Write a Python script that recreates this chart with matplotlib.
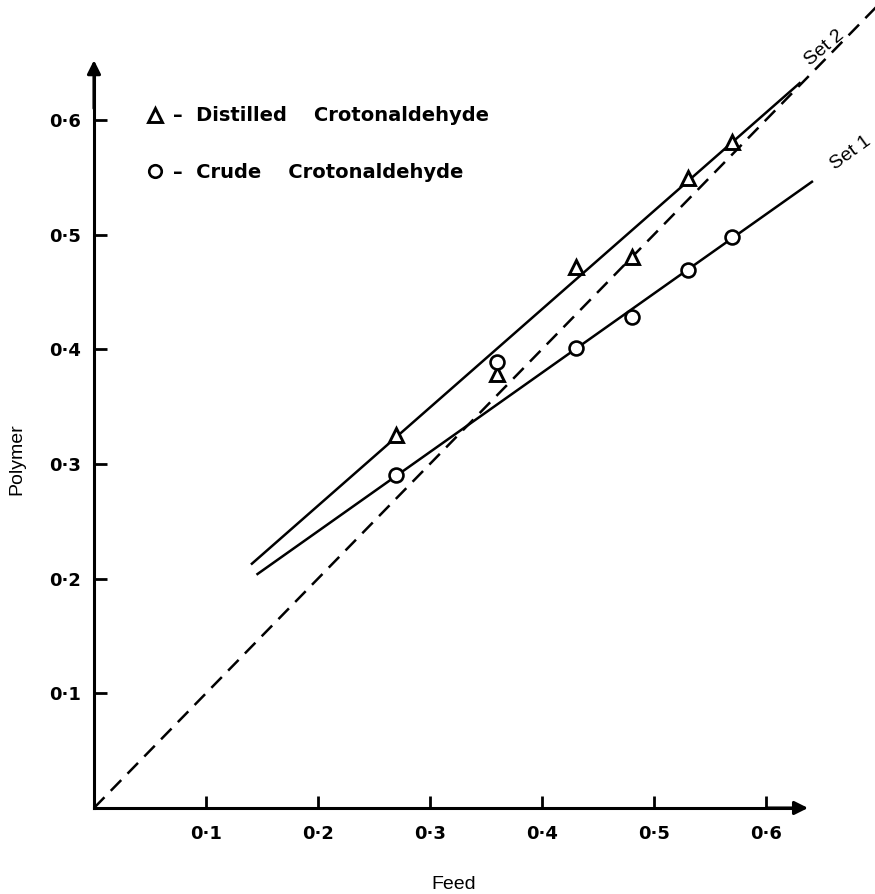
import numpy as np
import matplotlib
matplotlib.use("Agg")
import matplotlib.pyplot as plt
from matplotlib.lines import Line2D

# ---- data ---------------------------------------------------------------
feed = [0.27, 0.36, 0.43, 0.48, 0.53, 0.57]
distilled = [0.325, 0.378, 0.472, 0.480, 0.549, 0.581]   # triangles
crude = [0.290, 0.389, 0.401, 0.428, 0.469, 0.498]       # circles

set2_x = [0.141, 0.630]
set2_y = [0.213, 0.632]
set1_x = [0.146, 0.641]
set1_y = [0.204, 0.546]
diag = [0.0, 0.70]

ticks = [0.1, 0.2, 0.3, 0.4, 0.5, 0.6]
tick_labels = ["0·1", "0·2", "0·3", "0·4", "0·5", "0·6"]

# ---- style --------------------------------------------------------------
INK = "black"
BOLD = dict(family="DejaVu Sans", weight="bold")
PLAIN = dict(family="Liberation Sans")
LW_AX = 2.2
LW = 1.8

fig = plt.figure(figsize=(8.75, 8.94), dpi=100)
ax = fig.add_axes([0, 0, 1, 1])
ax.set_xlim(-0.0839, 0.6973)
ax.set_ylim(-0.075, 0.7045)

# fitted lines and the 45-degree reference
ax.plot(set2_x, set2_y, color=INK, lw=LW, zorder=2)
ax.plot(set1_x, set1_y, color=INK, lw=LW, zorder=2)
ax.plot(diag, diag, color=INK, lw=LW, ls=(0, (6, 3.6)), zorder=2,
        clip_on=False)

ax.plot(feed, distilled, ls="none", marker="^", ms=10.5, mfc="white",
        mec=INK, mew=2.1, zorder=4)
ax.plot(feed, crude, ls="none", marker="o", ms=10, mfc="white",
        mec=INK, mew=1.9, zorder=4)

# ---- axes drawn through the origin, with arrow heads -------------------
for side in ("top", "right"):
    ax.spines[side].set_visible(False)
for side in ("left", "bottom"):
    ax.spines[side].set_position(("data", 0))
    ax.spines[side].set_linewidth(LW_AX)
ax.spines["bottom"].set_bounds(0, 0.63)
ax.spines["left"].set_bounds(0, 0.64)
ax.annotate("", xy=(0.6375, 0), xytext=(0.60, 0),
            arrowprops=dict(arrowstyle="-|>", color=INK, lw=LW_AX,
                            mutation_scale=20, shrinkA=0, shrinkB=0))
ax.annotate("", xy=(0, 0.652), xytext=(0, 0.61),
            arrowprops=dict(arrowstyle="-|>", color=INK, lw=LW_AX,
                            mutation_scale=20, shrinkA=0, shrinkB=0))

ax.set_xticks(ticks)
ax.set_yticks(ticks)
ax.set_xticklabels(tick_labels, fontsize=13, **BOLD)
ax.set_yticklabels(tick_labels, fontsize=13, **BOLD)
ax.tick_params(axis="both", direction="in", length=9, width=2.0,
               colors=INK)
ax.tick_params(axis="x", pad=12)
ax.tick_params(axis="y", pad=9)

# ---- labels -------------------------------------------------------------
ax.text(0.321, -0.067, "Feed", ha="center", va="center", fontsize=14,
        **PLAIN)
ax.text(-0.069, 0.304, "Polymer", ha="center", va="center", fontsize=14,
        rotation=90, **PLAIN)
ax.text(0.652, 0.663, "Set 2", ha="center", va="center", fontsize=14,
        rotation=40, **PLAIN)
ax.text(0.676, 0.571, "Set 1", ha="center", va="center", fontsize=14,
        rotation=36, **PLAIN)

handles = [
    Line2D([], [], ls="none", marker="^", ms=9.5, mfc="white", mec=INK,
           mew=2.1),
    Line2D([], [], ls="none", marker="o", ms=9, mfc="white", mec=INK,
           mew=1.9),
]
labels = ["–  Distilled    Crotonaldehyde", "–  Crude    Crotonaldehyde"]
ax.legend(handles, labels, loc="upper left", bbox_to_anchor=(0.166, 0.881),
          bbox_transform=fig.transFigure, frameon=False, borderpad=0,
          borderaxespad=0, handlelength=1.0, handletextpad=0.45,
          labelspacing=1.95, prop=dict(size=14, **BOLD))

fig.savefig("out.png", dpi=100, facecolor="white")
